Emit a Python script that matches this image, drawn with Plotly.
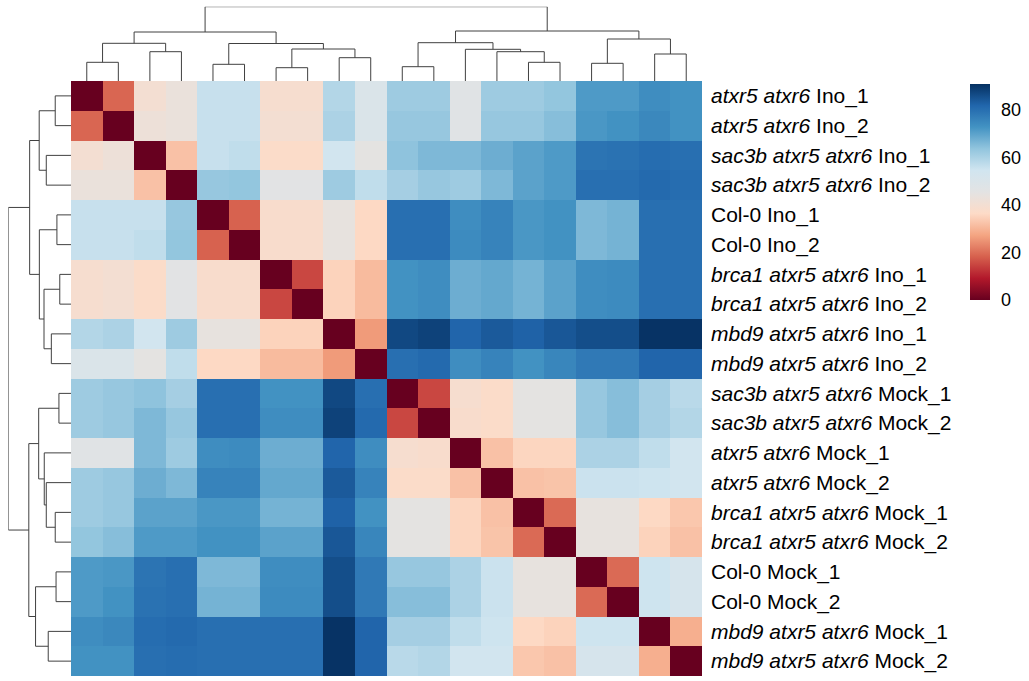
import plotly.graph_objects as go

W, H = 1029, 681

# ---------------- data ----------------
genotypes = [
    "atxr5 atxr6", "atxr5 atxr6",
    "sac3b atxr5 atxr6", "sac3b atxr5 atxr6",
    "Col-0", "Col-0",
    "brca1 atxr5 atxr6", "brca1 atxr5 atxr6",
    "mbd9 atxr5 atxr6", "mbd9 atxr5 atxr6",
    "sac3b atxr5 atxr6", "sac3b atxr5 atxr6",
    "atxr5 atxr6", "atxr5 atxr6",
    "brca1 atxr5 atxr6", "brca1 atxr5 atxr6",
    "Col-0", "Col-0",
    "mbd9 atxr5 atxr6", "mbd9 atxr5 atxr6",
]
samples = [
    "Ino_1", "Ino_2", "Ino_1", "Ino_2", "Ino_1", "Ino_2", "Ino_1", "Ino_2", "Ino_1", "Ino_2",
    "Mock_1", "Mock_2", "Mock_1", "Mock_2", "Mock_1", "Mock_2", "Mock_1", "Mock_2", "Mock_1", "Mock_2",
]

# upper triangle of the sample distance matrix (row i, columns i+1 .. 20)
upper = [
    [19, 40, 43, 56, 56, 39, 39, 59, 50, 62, 62, 47, 62, 62, 63.5, 71.5, 71.5, 74, 73],
    [42, 43, 56, 56, 40, 40, 60, 50, 63, 63, 47, 63, 63, 65, 72, 73, 75, 73],
    [32, 56, 57, 37, 37, 54, 45, 64, 66, 66, 68, 70, 71.5, 79, 79.5, 80.5, 80],
    [63, 63.5, 46, 46, 62, 57, 61, 63, 62, 66, 70, 71.5, 80, 80, 81, 80.5],
    [18.5, 38, 38, 44, 36, 80, 80, 74, 76, 72, 73, 66, 67, 80, 80],
    [38, 38, 44, 36, 80, 80, 74.5, 76, 72, 73, 66, 67, 80, 80],
    [15, 35, 31, 73, 74, 68, 69, 67, 70, 74, 74.5, 80, 80],
    [35, 31, 73, 74, 68, 69, 67, 70, 74, 74.5, 80, 80],
    [26, 87, 88, 82, 84, 82.5, 84.5, 86, 86, 90.5, 90.5],
    [80, 81, 74, 76, 73, 75.5, 78, 78, 82, 82],
    [15, 39, 37, 45, 45, 63, 65, 61, 58],
    [38, 37, 45, 45, 63, 65, 61, 59],
    [32, 35.5, 35.5, 60, 60, 57, 54],
    [32, 32.5, 55.5, 55.5, 55, 54],
    [19.5, 44, 44, 36, 33],
    [44, 44, 35, 32],
    [19.5, 55, 52],
    [55, 52],
    [29],
]

# hierarchical clustering merges: (child a, child b, height); leaves 0..19, clusters 20+
merges = [
    (0, 1, 18.7), (2, 3, 29.3), (20, 21, 37.7),
    (4, 5, 16.7), (6, 7, 13.3), (8, 9, 23.3), (24, 25, 32.0), (23, 26, 37.5),
    (22, 27, 49.0),
    (10, 11, 14.3), (14, 15, 18.7), (13, 30, 29.3), (12, 31, 31.7), (29, 32, 38.3),
    (16, 17, 17.7), (18, 19, 27.0), (34, 35, 42.0), (33, 36, 50.0),
    (28, 37, 74.3),
]

colorbar_ticks = [0, 20, 40, 60, 80]
z_min, z_max = 0, 91

# ---------------- build ----------------
n = len(samples)
matrix = [[0.0] * n for _ in range(n)]
for i, row in enumerate(upper):
    for k, v in enumerate(row):
        j = i + 1 + k
        matrix[i][j] = v
        matrix[j][i] = v

labels = []
for g, s in zip(genotypes, samples):
    if g == "Col-0":
        labels.append(f"{g} {s}")
    else:
        labels.append(f"<i>{g}</i> {s}")

rdbu = ["#67001F", "#B2182B", "#D6604D", "#F4A582", "#FDDBC7", "#E3E3E3",
        "#D1E5F0", "#92C5DE", "#4393C3", "#2166AC", "#053061"]
colorscale = [[i / (len(rdbu) - 1), c] for i, c in enumerate(rdbu)]

# dendrogram segments
pos = {i: float(i) for i in range(n)}
hgt = {i: 0.0 for i in range(n)}
seg_p, seg_h = [], []
for k, (a, b, h) in enumerate(merges):
    xa, xb = pos[a], pos[b]
    seg_p += [xa, xa, xb, xb, None]
    seg_h += [hgt[a], h, h, hgt[b], None]
    pos[n + k] = (xa + xb) / 2
    hgt[n + k] = h
root_h = merges[-1][2]

FONT = "Arial, Liberation Sans, Helvetica, sans-serif"

fig = go.Figure()
fig.add_trace(go.Heatmap(
    z=matrix, x=list(range(n)), y=list(range(n)),
    colorscale=colorscale, zmin=z_min, zmax=z_max,
    xaxis="x", yaxis="y", hoverongaps=False,
    colorbar=dict(
        x=970 / W, xanchor="left", xpad=0,
        y=1 - 84 / H, yanchor="top", ypad=0,
        len=216 / H, lenmode="fraction",
        thickness=20, thicknessmode="pixels",
        outlinewidth=0,
        tickvals=colorbar_ticks,
        ticks="outside", ticklen=8, tickcolor="rgba(0,0,0,0)",
        tickfont=dict(family=FONT, size=18, color="black"),
    ),
))
line_style = dict(color="#404040", width=1)
fig.add_trace(go.Scatter(x=seg_p, y=seg_h, mode="lines", line=line_style,
                         xaxis="x", yaxis="y2", hoverinfo="skip", showlegend=False))
fig.add_trace(go.Scatter(x=seg_h, y=seg_p, mode="lines", line=line_style,
                         xaxis="x2", yaxis="y", hoverinfo="skip", showlegend=False))

fig.update_layout(
    template="none",
    width=W, height=H,
    margin=dict(l=0, r=0, t=0, b=0),
    paper_bgcolor="white", plot_bgcolor="white",
    font=dict(family=FONT, color="black"),
    showlegend=False,
    xaxis=dict(domain=[71 / W, 702 / W], range=[-0.5, n - 0.5], anchor="y",
               showticklabels=False, showgrid=False, zeroline=False, showline=False, ticks=""),
    yaxis=dict(domain=[1 - 676 / H, 1 - 81 / H], range=[n - 0.5, -0.5], anchor="x",
               side="right", tickvals=list(range(n)), ticktext=labels, ticks="",
               ticklabelstandoff=8, tickfont=dict(family=FONT, size=21, color="black"),
               showgrid=False, zeroline=False, showline=False, automargin=False),
    xaxis2=dict(domain=[8.3 / W, 71 / W], range=[root_h, 0], anchor="y", visible=False),
    yaxis2=dict(domain=[1 - 81 / H, 1 - 6.7 / H], range=[0, root_h], anchor="x", visible=False),
)

fig.write_html("out.html")
